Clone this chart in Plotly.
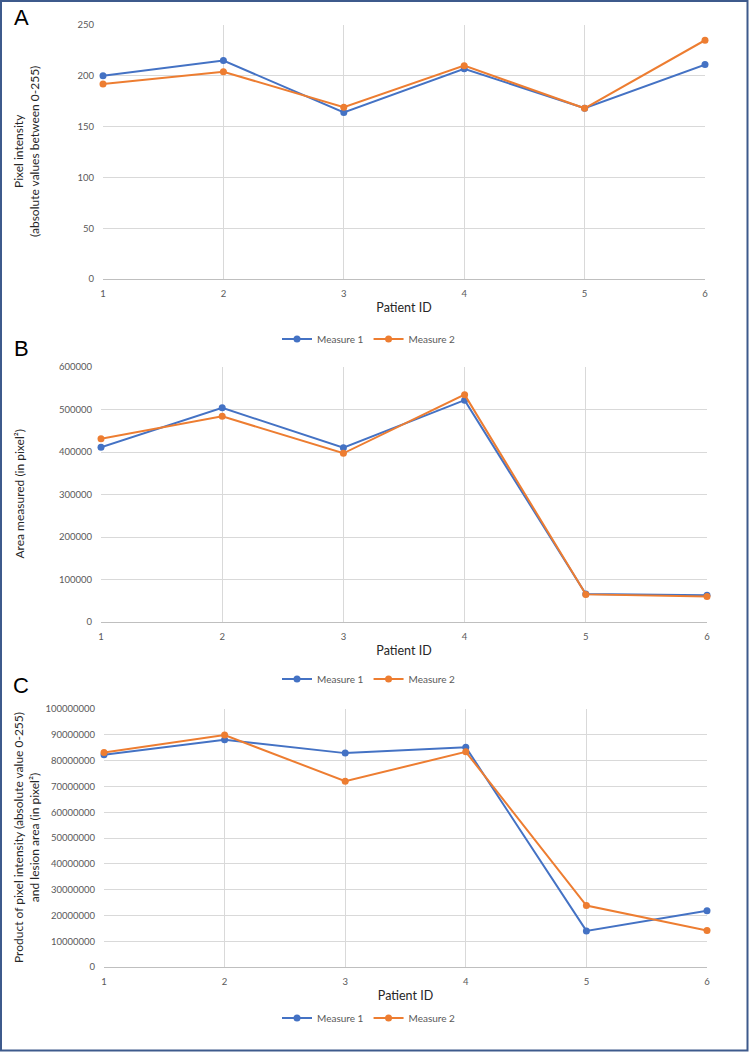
import plotly.graph_objects as go

W, H = 749, 1052

patient_ids = [1, 2, 3, 4, 5, 6]
intensity_m1 = [200, 215, 164, 207, 168, 211]
intensity_m2 = [192, 204, 169, 210, 168, 235]
area_m1 = [411000, 504000, 410000, 522000, 66000, 63000]
area_m2 = [431000, 484000, 397000, 535000, 65000, 60000]
product_m1 = [82300000, 88100000, 82900000, 85200000, 14000000, 21800000]
product_m2 = [83100000, 89900000, 72000000, 83400000, 23800000, 14100000]
series_names = ["Measure 1", "Measure 2"]

BLUE = "#4472C4"
ORANGE = "#ED7D31"
GRID = "#D9D9D9"
TICK = "#595959"
FONT = "Lato"

def px_x(p):
    return p / W

def px_y(p):
    return 1 - p / H

panels = [
    ("", intensity_m1, intensity_m2, (103, 705), (25, 279), [0, 250], 50, 339,
     "Pixel intensity<br>(absolute values between 0-255)", 26, "A", 18),
    ("2", area_m1, area_m2, (101, 707), (367, 622), [0, 600000], 100000, 679,
     "Area measured (in pixel²)", 19, "B", 348),
    ("3", product_m1, product_m2, (104, 707), (709, 967), [0, 100000000], 10000000, 1018,
     "Product of pixel intensity (absolute value 0-255)<br>and lesion area (in pixel²)", 26, "C", 685),
]

fig = go.Figure()
layout = dict(
    width=W, height=H, margin=dict(l=0, r=0, t=0, b=0, pad=0),
    paper_bgcolor="white", plot_bgcolor="white",
    font=dict(family=FONT, color=TICK),
    annotations=[], shapes=[],
)

for i, (suf, d1, d2, xpx, ypx, yr, dt, legy, ytitle, ytx, letter, lety) in enumerate(panels):
    leg = "legend" + suf
    for name, data, col in zip(series_names, [d1, d2], [BLUE, ORANGE]):
        fig.add_trace(go.Scatter(
            x=patient_ids, y=data, name=name, mode="lines+markers",
            line=dict(color=col, width=2), marker=dict(color=col, size=7),
            xaxis="x" + suf, yaxis="y" + suf, legend=leg, cliponaxis=False,
        ))
    layout["xaxis" + suf] = dict(
        domain=[px_x(xpx[0]), px_x(xpx[1])], anchor="y" + suf,
        range=[1, 6], tickmode="linear", tick0=1, dtick=1,
        showgrid=True, gridcolor=GRID, gridwidth=1,
        showline=True, linecolor="#BFBFBF", linewidth=1,
        zeroline=False, ticks="", ticklabelstandoff=6, automargin=False,
        tickfont=dict(size=9.5, color=TICK, family=FONT),
        title=dict(text="Patient ID", font=dict(size=12.5, color="#262626", family=FONT), standoff=4),
    )
    layout["yaxis" + suf] = dict(
        domain=[px_y(ypx[1]), px_y(ypx[0])], anchor="x" + suf,
        range=yr, tickmode="linear", tick0=0, dtick=dt, tickformat="d",
        showgrid=True, gridcolor=GRID, gridwidth=1, automargin=False,
        zeroline=False, showline=False, ticks="", ticklabelstandoff=8,
        tickfont=dict(size=9.5, color=TICK, family=FONT),
    )
    layout[leg] = dict(
        orientation="h", x=px_x(369), xanchor="center", y=px_y(legy), yanchor="middle",
        font=dict(size=10, color=TICK, family=FONT), bgcolor="rgba(0,0,0,0)",
        itemwidth=30, tracegroupgap=0,
    )
    layout["annotations"].append(dict(
        text=ytitle, textangle=-90, x=px_x(ytx), y=px_y((ypx[0] + ypx[1]) / 2),
        xref="paper", yref="paper", showarrow=False, xanchor="center", yanchor="middle",
        font=dict(size=12, color="#262626", family=FONT),
    ))
    layout["annotations"].append(dict(
        text=letter, x=px_x(21), y=px_y(lety), xref="paper", yref="paper",
        showarrow=False, xanchor="center", yanchor="middle",
        font=dict(size=22, color="black", family="Liberation Sans"),
    ))

layout["shapes"].append(dict(
    type="rect", xref="paper", yref="paper",
    x0=px_x(1), x1=px_x(747.5), y0=px_y(1050.5), y1=px_y(1),
    line=dict(color="#3E5A8C", width=2), fillcolor="rgba(0,0,0,0)",
))

fig.update_layout(**layout)
fig.write_html(
    "out.html",
    config={"displayModeBar": False},
    post_script="document.body.style.margin='0';document.body.style.padding='0';document.body.style.overflow='hidden';",
)
